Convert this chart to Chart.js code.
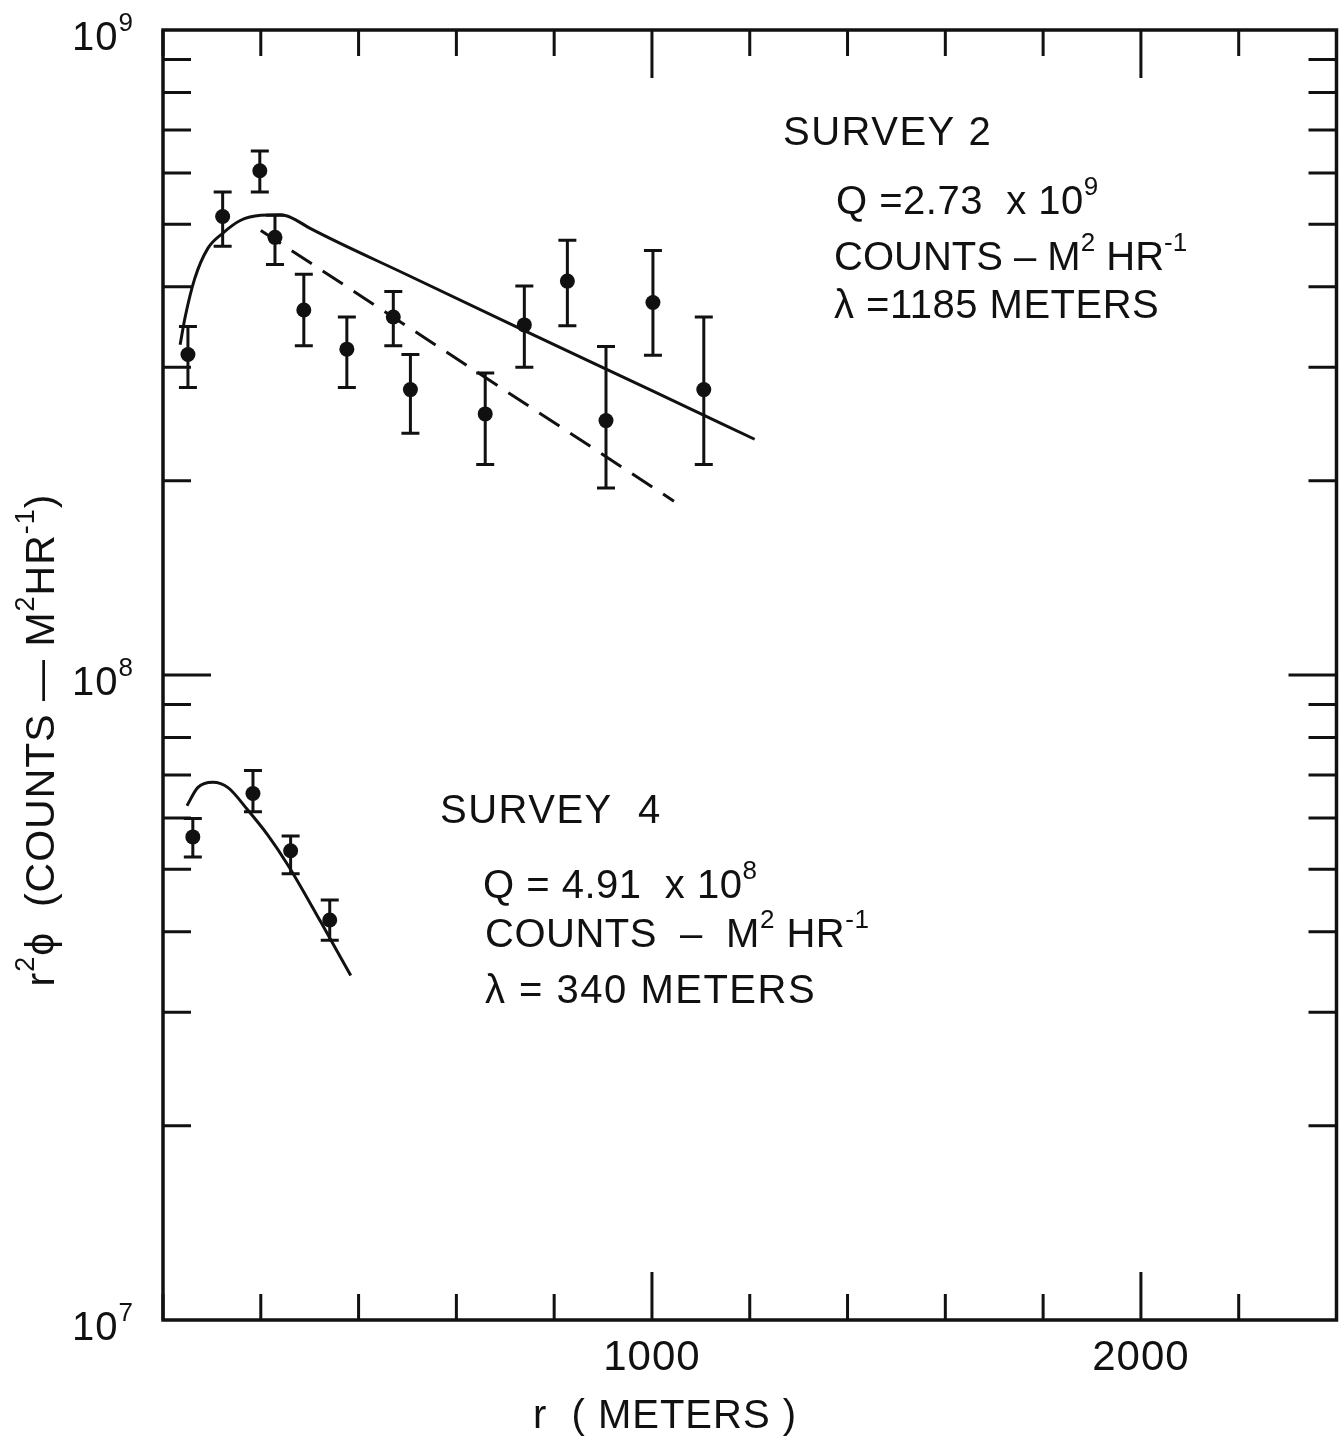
<!DOCTYPE html>
<html>
<head>
<meta charset="utf-8">
<script src="https://cdn.jsdelivr.net/npm/chart.js@4.4.1/dist/chart.umd.min.js"></script>
<style>
  html, body { margin: 0; padding: 0; background: #fff; }
  canvas { display: block; }
</style>
</head>
<body>
<canvas id="chart" width="1344" height="1436"></canvas>
<script>
// Survey 2 measurements (r in meters, r^2 phi value, error bar top / bottom)
const s2R   = [51, 122, 198, 229, 288, 376, 471, 506, 659, 739, 827, 906, 1002, 1106];
const s2Val = [3.14e8, 5.14e8, 6.05e8, 4.77e8, 3.68e8, 3.20e8, 3.59e8, 2.77e8, 2.54e8, 3.49e8, 4.08e8, 2.48e8, 3.78e8, 2.77e8];
const s2Hi  = [3.47e8, 5.61e8, 6.49e8, 5.16e8, 4.18e8, 3.59e8, 3.93e8, 3.14e8, 2.94e8, 4.01e8, 4.72e8, 3.23e8, 4.55e8, 3.59e8];
const s2Lo  = [2.79e8, 4.62e8, 5.61e8, 4.33e8, 3.24e8, 2.79e8, 3.24e8, 2.37e8, 2.12e8, 3.00e8, 3.48e8, 1.95e8, 3.13e8, 2.12e8];

// Survey 4 measurements
const s4R   = [61, 184, 261, 341];
const s4Val = [5.61e7, 6.55e7, 5.34e7, 4.17e7];
const s4Hi  = [5.99e7, 7.11e7, 5.63e7, 4.48e7];
const s4Lo  = [5.22e7, 6.14e7, 4.92e7, 3.88e7];

// fitted curves
const fit2R   = [35, 45, 65, 92, 122, 159, 200, 240, 262, 300, 500, 739, 1000, 1210];
const fit2Val = [3.25e8, 3.58e8, 4.12e8, 4.59e8, 4.84e8, 5.07e8, 5.16e8, 5.17e8, 5.12e8, 4.93e8, 4.17e8, 3.42e8, 2.76e8, 2.32e8];
const dash2R   = [200, 1045];
const dash2Val = [4.89e8, 1.86e8];
const fit4R   = [49, 71, 102, 133, 173, 214, 255, 322, 384];
const fit4Val = [6.27e7, 6.69e7, 6.82e7, 6.69e7, 6.18e7, 5.65e7, 5.08e7, 4.15e7, 3.42e7];

// axes
const xTicks = [0, 200, 400, 600, 800, 1000, 1200, 1400, 1600, 1800, 2000, 2200, 2400];
const xLabels = [1000, 2000];
const yMinor = [2e7, 3e7, 4e7, 5e7, 6e7, 7e7, 8e7, 9e7, 2e8, 3e8, 4e8, 5e8, 6e8, 7e8, 8e8, 9e8];
const yDecades = [1e7, 1e8, 1e9];
const yDecadeExp = ['7', '8', '9'];

const FONT = '"Liberation Sans", Arial, sans-serif';
const INK = '#111';

function pts(xs, ys) {
  return xs.map((x, i) => ({ x: x, y: ys[i] }));
}

// draws a run of [text, isSuperscript] pieces, returns the width
function drawParts(ctx, parts, x, y, size, measureOnly) {
  let cx = x;
  parts.forEach(p => {
    const sup = p[1];
    ctx.font = (sup ? Math.round(size * 0.66) : size) + 'px ' + FONT;
    if (!measureOnly) ctx.fillText(p[0], cx, sup ? y - size * 0.48 : y);
    cx += ctx.measureText(p[0]).width;
  });
  return cx - x;
}

const notes = [
  { x: 783, y: 145, sp: 1.5, parts: [['SURVEY 2', 0]] },
  { x: 836, y: 214, sp: 0.5, parts: [['Q =2.73  x 10', 0], ['9', 1]] },
  { x: 834, y: 270, sp: 0, parts: [['COUNTS – M', 0], ['2', 1], [' HR', 0], ['-1', 1]] },
  { x: 834, y: 318, sp: 0.5, parts: [['λ =1185 METERS', 0]] },
  { x: 440, y: 823, sp: 1.5, parts: [['SURVEY  4', 0]] },
  { x: 483, y: 898, sp: 0.5, parts: [['Q = 4.91  x 10', 0], ['8', 1]] },
  { x: 485, y: 947, sp: 0.5, parts: [['COUNTS  –  M', 0], ['2', 1], [' HR', 0], ['-1', 1]] },
  { x: 485, y: 1003, sp: 1.5, parts: [['λ = 340 METERS', 0]] }
];

const errorBars = {
  id: 'errorBars',
  afterDatasetsDraw(chart) {
    const ctx = chart.ctx, xs = chart.scales.x, ys = chart.scales.y;
    ctx.save();
    ctx.strokeStyle = INK;
    ctx.lineWidth = 3;
    const draw = (r, hi, lo) => {
      r.forEach((v, i) => {
        const x = xs.getPixelForValue(v);
        const yt = ys.getPixelForValue(hi[i]);
        const yb = ys.getPixelForValue(lo[i]);
        ctx.beginPath();
        ctx.moveTo(x, yt); ctx.lineTo(x, yb);
        ctx.moveTo(x - 9, yt); ctx.lineTo(x + 9, yt);
        ctx.moveTo(x - 9, yb); ctx.lineTo(x + 9, yb);
        ctx.stroke();
      });
    };
    draw(s2R, s2Hi, s2Lo);
    draw(s4R, s4Hi, s4Lo);
    ctx.restore();
  }
};

const frame = {
  id: 'frame',
  afterDraw(chart) {
    const ctx = chart.ctx, a = chart.chartArea, xs = chart.scales.x, ys = chart.scales.y;
    ctx.save();
    ctx.strokeStyle = INK;
    ctx.fillStyle = INK;
    ctx.lineWidth = 3.5;
    ctx.strokeRect(a.left, a.top, a.right - a.left, a.bottom - a.top);

    ctx.lineWidth = 3;
    ctx.beginPath();
    xTicks.forEach(v => {
      const x = xs.getPixelForValue(v);
      const len = xLabels.includes(v) ? 48 : 26;
      ctx.moveTo(x, a.bottom); ctx.lineTo(x, a.bottom - len);
      ctx.moveTo(x, a.top); ctx.lineTo(x, a.top + len);
    });
    yMinor.concat([1e8]).forEach(v => {
      const y = ys.getPixelForValue(v);
      const len = v === 1e8 ? 48 : 28;
      ctx.moveTo(a.left, y); ctx.lineTo(a.left + len, y);
      ctx.moveTo(a.right, y); ctx.lineTo(a.right - len, y);
    });
    ctx.stroke();

    ctx.letterSpacing = '1px';
    // tick labels
    ctx.textBaseline = 'alphabetic';
    ctx.textAlign = 'center';
    ctx.font = '42px ' + FONT;
    xLabels.forEach(v => {
      ctx.fillText(String(v), xs.getPixelForValue(v), a.bottom + 50);
    });
    ctx.textAlign = 'left';
    yDecades.forEach((v, i) => {
      const y = ys.getPixelForValue(v);
      drawParts(ctx, [['10', 0], [yDecadeExp[i], 1]], 72, y + 20, 40);
    });

    // axis titles
    ctx.font = '40px ' + FONT;
    ctx.textAlign = 'center';
    ctx.fillText('r  ( METERS )', 665, 1428);

    const yTitle = [['r', 0], ['2', 1], ['ϕ  (COUNTS — M', 0], ['2', 1], ['HR', 0], ['-1', 1], [')', 0]];
    ctx.textAlign = 'left';
    ctx.save();
    ctx.translate(54, 740);
    ctx.rotate(-Math.PI / 2);
    const w = drawParts(ctx, yTitle, 0, 0, 41, true);
    drawParts(ctx, yTitle, -w / 2, 0, 41);
    ctx.restore();

    // annotations
    notes.forEach(n => {
      ctx.letterSpacing = n.sp + 'px';
      drawParts(ctx, n.parts, n.x, n.y, 40);
    });
    ctx.restore();
  }
};

new Chart(document.getElementById('chart'), {
  type: 'scatter',
  data: {
    datasets: [
      { label: 'Survey 2 fit', data: pts(fit2R, fit2Val), showLine: true, borderColor: INK, borderWidth: 3,
        pointRadius: 0, cubicInterpolationMode: 'monotone' },
      { label: 'Survey 2 dashed', data: pts(dash2R, dash2Val), showLine: true, borderColor: INK, borderWidth: 3,
        borderDash: [24, 13], pointRadius: 0 },
      { label: 'Survey 4 fit', data: pts(fit4R, fit4Val), showLine: true, borderColor: INK, borderWidth: 3,
        pointRadius: 0, cubicInterpolationMode: 'monotone' },
      { label: 'Survey 2', data: pts(s2R, s2Val), pointRadius: 7.5, pointBackgroundColor: INK, pointBorderWidth: 0 },
      { label: 'Survey 4', data: pts(s4R, s4Val), pointRadius: 7.5, pointBackgroundColor: INK, pointBorderWidth: 0 }
    ]
  },
  options: {
    responsive: false,
    animation: false,
    layout: { padding: { left: 163, right: 4, top: 30, bottom: 116 } },
    plugins: { legend: { display: false }, tooltip: { enabled: false } },
    scales: {
      x: { type: 'linear', min: 0, max: 2400, display: false },
      y: { type: 'logarithmic', min: 1e7, max: 1e9, display: false }
    }
  },
  plugins: [errorBars, frame]
});
</script>
</body>
</html>
